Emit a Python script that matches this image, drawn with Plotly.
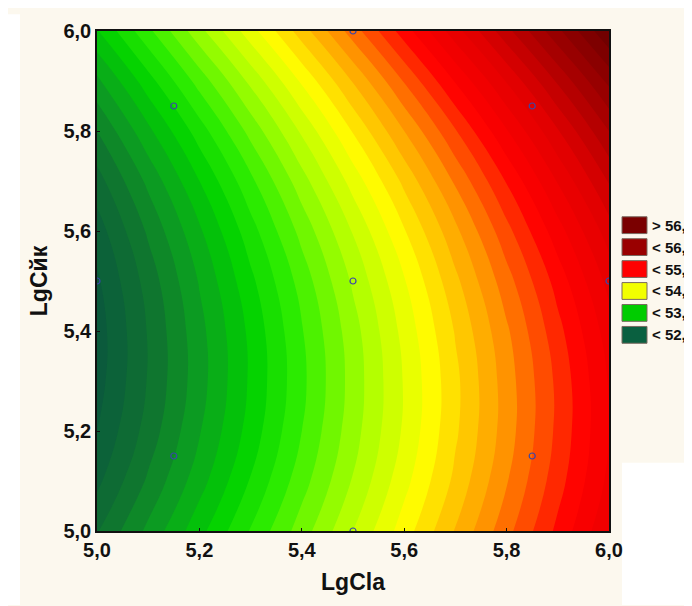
import plotly.graph_objects as go

# ---- data ----
x_vals = [5.0, 5.1, 5.2, 5.3, 5.4, 5.5, 5.6, 5.7, 5.8, 5.9, 6.0]
y_vals = [5.0, 5.1, 5.2, 5.3, 5.4, 5.5, 5.6, 5.7, 5.8, 5.9, 6.0]
# z_grid[row for y][col for x]
z_grid = [
    [52.25, 52.53, 52.82, 53.11, 53.40, 53.70, 54.00, 54.31, 54.62, 54.93, 55.25],
    [52.11, 52.40, 52.69, 52.99, 53.29, 53.59, 53.90, 54.21, 54.53, 54.85, 55.17],
    [52.02, 52.31, 52.61, 52.91, 53.22, 53.53, 53.84, 54.16, 54.48, 54.81, 55.14],
    [51.97, 52.27, 52.57, 52.88, 53.19, 53.51, 53.83, 54.15, 54.48, 54.81, 55.15],
    [51.96, 52.27, 52.58, 52.89, 53.21, 53.53, 53.86, 54.19, 54.52, 54.86, 55.20],
    [52.00, 52.31, 52.63, 52.95, 53.27, 53.60, 53.93, 54.27, 54.61, 54.95, 55.30],
    [52.08, 52.40, 52.72, 53.05, 53.38, 53.71, 54.05, 54.39, 54.74, 55.09, 55.44],
    [52.21, 52.53, 52.86, 53.19, 53.53, 53.87, 54.21, 54.56, 54.91, 55.27, 55.63],
    [52.38, 52.71, 53.04, 53.38, 53.72, 54.07, 54.42, 54.77, 55.13, 55.49, 55.86],
    [52.59, 52.93, 53.27, 53.61, 53.96, 54.31, 54.67, 55.03, 55.39, 55.76, 56.13],
    [52.85, 53.19, 53.54, 53.89, 54.24, 54.60, 54.96, 55.33, 55.70, 56.07, 56.45],
]
pts_x = [5.15, 5.15, 5.85, 5.85, 5.0, 6.0, 5.5, 5.5, 5.5]
pts_y = [5.15, 5.85, 5.15, 5.85, 5.5, 5.5, 5.0, 6.0, 5.5]
legend_labels = ["> 56,", "< 56,", "< 55,", "< 54,", "< 53,", "< 52,"]
legend_colors = ["#7a0000", "#9a0000", "#ff0000", "#f2ff00", "#00cc00", "#0a6040"]
x_ticks = [5.0, 5.2, 5.4, 5.6, 5.8, 6.0]
y_ticks = [5.0, 5.2, 5.4, 5.6, 5.8, 6.0]

# ---- colour scale ----
cs_vals = [51.9, 52.0, 52.3, 52.6, 52.9, 53.2, 53.6, 54.0, 54.5, 55.0, 55.5, 56.0, 56.5]
cs_cols = ["#0a563c", "#0b5c3c", "#0f7230", "#0ca020", "#00d000", "#30ee00", "#a8ff00",
           "#ffff00", "#ff9400", "#ff0000", "#e00000", "#a00000", "#6a0000"]
zmin, zmax = cs_vals[0], cs_vals[-1]
colorscale = [[(v - zmin) / (zmax - zmin), c] for v, c in zip(cs_vals, cs_cols)]

# page has an 8px body margin: figure is 684x598 placed at (8, 8)
W, H = 684, 598
L, R, T, B = 89, 83, 17, 75
pw, ph = W - L - R, H - T - B


def px(xp):
    return (xp - L) / pw


def py(yp):
    return (H - B - yp) / ph


FONT = "Liberation Sans, Arial, sans-serif"
CREAM = "#fcf8ee"

fig = go.Figure()
fig.add_trace(go.Contour(
    x=x_vals, y=y_vals, z=z_grid,
    colorscale=colorscale, zmin=zmin, zmax=zmax,
    contours=dict(start=51.9, end=56.6, size=0.12, coloring="fill", showlines=False),
    line=dict(width=0, smoothing=1.3),
    showscale=False, hoverinfo="skip",
))
fig.add_trace(go.Scatter(
    x=pts_x, y=pts_y, mode="markers",
    marker=dict(symbol="circle-open", size=6, color="#3a46a8", line=dict(width=1.2)),
    showlegend=False, hoverinfo="skip",
))

shapes = [
    dict(type="rect", xref="paper", yref="paper", x0=px(0), x1=px(12), y0=py(H), y1=py(0),
         fillcolor="white", line=dict(width=0), layer="below"),
    dict(type="rect", xref="paper", yref="paper", x0=px(614), x1=px(W), y0=py(H), y1=py(454),
         fillcolor="white", line=dict(width=0), layer="below"),
]
annotations = []
for i, (lab, col) in enumerate(zip(legend_labels, legend_colors)):
    top = 205 + i * 22.2
    shapes.append(dict(type="rect", xref="paper", yref="paper",
                       x0=px(614), x1=px(639), y0=py(top + 17), y1=py(top),
                       fillcolor=col, line=dict(color="#7a6a60", width=1)))
    annotations.append(dict(xref="paper", yref="paper", x=px(642), y=py(top + 8.5),
                            text=lab, showarrow=False, xanchor="left", yanchor="middle",
                            font=dict(family=FONT, size=15, color="#111", weight="bold")))

fig.update_layout(
    width=W, height=H, autosize=False,
    margin=dict(l=L, r=R, t=T, b=B, pad=0),
    paper_bgcolor=CREAM, plot_bgcolor=CREAM,
    separators=", ",
    shapes=shapes, annotations=annotations,
    xaxis=dict(range=[5.0, 6.0], tickvals=x_ticks, tickformat=".1f",
               ticks="inside", ticklen=3, tickcolor="#111", showgrid=False, zeroline=False,
               showline=True, mirror=True, linecolor="#111", linewidth=1.5,
               tickfont=dict(family=FONT, size=20, color="#111", weight="bold"),
               title=dict(text="LgCla", standoff=14,
                          font=dict(family=FONT, size=23, color="#111", weight="bold"))),
    yaxis=dict(range=[5.0, 6.0], tickvals=y_ticks, tickformat=".1f",
               ticks="inside", ticklen=3, tickcolor="#111", showgrid=False, zeroline=False,
               showline=True, mirror=True, linecolor="#111", linewidth=1.5,
               tickfont=dict(family=FONT, size=20, color="#111", weight="bold"),
               title=dict(text="LgCйк", standoff=9,
                          font=dict(family=FONT, size=23, color="#111", weight="bold"))),
)
fig.write_html("out.html")
